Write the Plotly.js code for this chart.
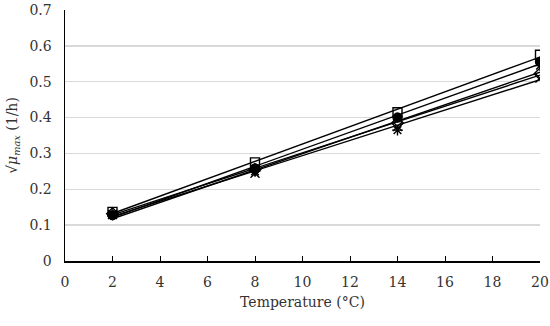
<!DOCTYPE html>
<html><head><meta charset="utf-8">
<script src="https://cdn.plot.ly/plotly-3.0.1.min.js"></script>
<style>html,body{margin:0;padding:0;background:#fff}#c{width:550px;height:326px}</style>
</head><body><div id="c"></div>
<script>
const temps = [2, 8, 14, 20];
const sqVals = [0.137, 0.275, 0.415, 0.575];
const circVals = [0.128, 0.258, 0.400, 0.556];
const diaVals = [0.132, 0.255, 0.385, 0.522];
const xVals = [0.130, 0.245, 0.375, 0.510];
const astVals = [0.129, 0.250, 0.365, 0.545];
const xTicks = [0,2,4,6,8,10,12,14,16,18,20];
const yTicks = [0,0.1,0.2,0.3,0.4,0.5,0.6,0.7];

function fit(xs, ys){
  const n = xs.length;
  const mx = xs.reduce((a,b)=>a+b,0)/n, my = ys.reduce((a,b)=>a+b,0)/n;
  let sxy=0, sxx=0;
  for(let i=0;i<n;i++){sxy+=(xs[i]-mx)*(ys[i]-my); sxx+=(xs[i]-mx)**2;}
  const b = sxy/sxx, a = my-b*mx;
  const ex = [xs[0], xs[n-1]];
  return {x: ex, y: ex.map(v=>a+b*v)};
}
const series = [
  {y: sqVals, sym:'square-open'},
  {y: circVals, sym:'circle'},
  {y: diaVals, sym:'diamond-open'},
  {y: xVals, sym:'x-thin-open'},
  {y: astVals, sym:'asterisk-open'}
];
const traces = [];
series.forEach(s=>{
  const f = fit(temps, s.y);
  traces.push({x:f.x, y:f.y, mode:'lines', line:{color:'#000', width:1.4}, showlegend:false, hoverinfo:'skip'});
});
series.forEach(s=>{
  traces.push({x:temps, y:s.y, mode:'markers', showlegend:false,
    marker:{symbol:s.sym, size:9, color:'#000', line:{color:'#000', width:1.4}}});
});
const font = {family:'"DejaVu Serif", "Liberation Serif", serif', size:14, color:'#333'};
const layout = {
  width:550, height:326,
  margin:{l:65, r:10, t:10, b:65},
  paper_bgcolor:'#fff', plot_bgcolor:'#fff',
  font: font,
  xaxis:{range:[0,20], tickvals:xTicks, ticktext:xTicks.map(String), showgrid:false, zeroline:false,
    showline:true, linecolor:'#000', linewidth:1.5, ticks:'inside', ticklen:5, tickcolor:'#000',
    ticklabelstandoff:8,
    title:{text:'Temperature (°C)', font:font, standoff:8}},
  yaxis:{range:[0,0.7], tickvals:yTicks, ticktext:yTicks.map(v=>String(v)), showgrid:true, gridcolor:'#d9d9d9', gridwidth:1.5,
    zeroline:false, showline:true, linecolor:'#000', linewidth:1.5, ticks:'', ticklabelstandoff:9,
    title:{text:'√<i>μ<sub>max</sub></i> (1/h)', font:font, standoff:8}}
};
Plotly.newPlot('c', traces, layout, {staticPlot:true});
</script></body></html>
